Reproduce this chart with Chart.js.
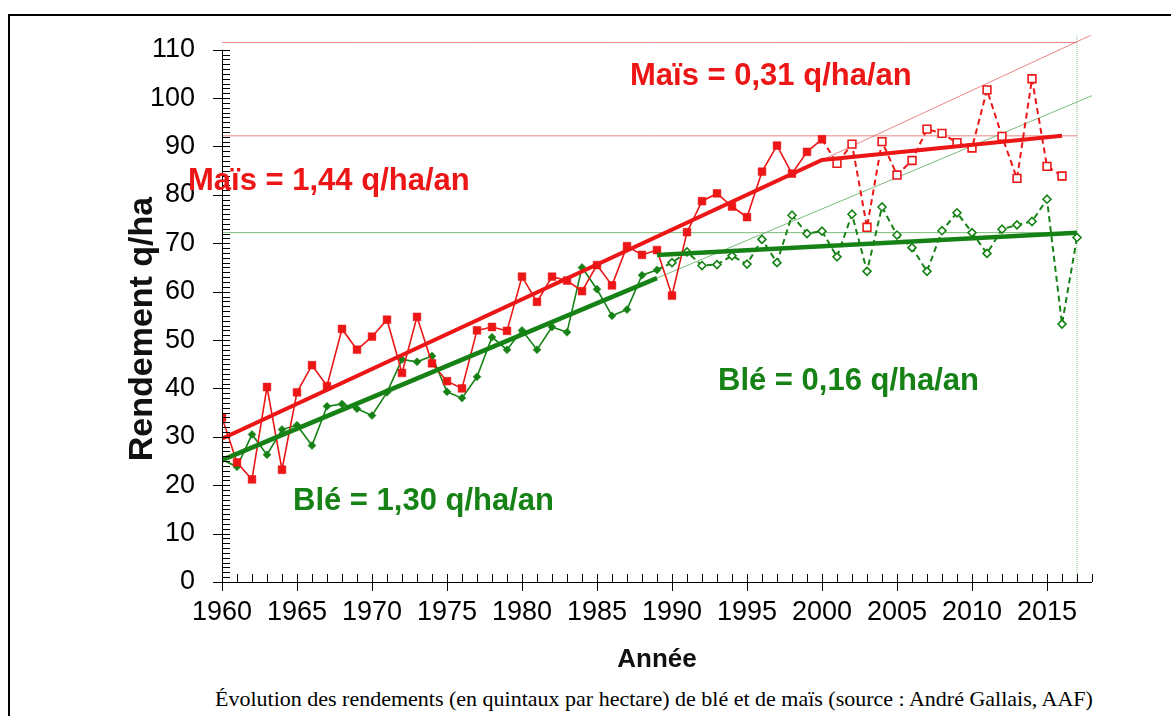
<!DOCTYPE html>
<html>
<head>
<meta charset="utf-8">
<script src="https://cdn.jsdelivr.net/npm/chart.js@4.4.1/dist/chart.umd.min.js"></script>
<style>
  body { margin: 0; background: #fff; }
  #wrap { position: relative; width: 1171px; height: 716px; overflow: hidden; }
  #frame { position: absolute; left: 8px; top: 14px; width: 1200px; height: 720px;
           border-left: 2px solid #000; border-top: 2px solid #000; }
  #rendement { position: absolute; left: 0; top: 0; }
  #caption { position: absolute; left: 215px; top: 686px; white-space: nowrap;
             font: 22px "Liberation Serif", "Times New Roman", serif; color: #000; }
</style>
</head>
<body>
<div id="wrap">
  <div id="frame"></div>
  <canvas id="rendement" width="1171" height="682"></canvas>
  <div id="caption">Évolution des rendements (en quintaux par hectare) de blé et de maïs (source : André Gallais, AAF)</div>
</div>
<script>
const years = [];
for (let y = 1960; y <= 2017; y++) years.push(y);

// maïs 1960-2016
const maize = [34, 24.7, 21.2, 40.3, 23.2, 39.2, 44.8, 40.5, 52.3, 48,
  50.7, 54.2, 43.2, 54.8, 45.2, 41.5, 40, 52, 52.7, 51.9,
  63.1, 57.9, 63.1, 62.3, 60.1, 65.5, 61.3, 69.4, 67.6, 68.6,
  59.2, 72.3, 78.7, 80.3, 77.6, 75.4, 84.8, 90.2, 84.4, 88.9,
  91.5, 86.5, 90.5, 73.3, 91, 84.1, 87.1, 93.6, 92.7, 90.8,
  89.7, 101.7, 92.1, 83.4, 104, 85.9, 83.9];

// blé 1960-2017
const wheat = [25.3, 23.8, 30.5, 26.3, 31.5, 32.4, 28.2, 36.3, 36.8, 35.8,
  34.4, 39.2, 46, 45.5, 46.7, 39.3, 38, 42.4, 50.6, 48,
  52, 48, 52.7, 51.6, 65, 60.5, 55, 56.3, 63.4, 64.5,
  66, 68.2, 65.4, 65.6, 67.4, 65.7, 70.8, 66, 75.8, 72,
  72.5, 67.2, 76, 64.2, 77.5, 71.7, 69.1, 64.2, 72.6, 76.3,
  72.2, 67.9, 72.9, 73.8, 74.5, 79.1, 53.3, 71.2];

const maizeBreak = 2000;
const wheatBreak = 1989;

// tendances
const maizeTrendX = [1960, 2000, 2016];
const maizeTrendY = [29.6, 87.2, 92.2];
const wheatTrend1X = [1960, 1989];
const wheatTrend1Y = [25.2, 62.8];
const wheatTrend2X = [1989, 2017];
const wheatTrend2Y = [67.6, 72.2];

// prolongations et repères fins
const maizeExtX = [2000, 2018];
const maizeExtY = [87.2, 113.1];
const wheatExtX = [1989, 2018];
const wheatExtY = [62.8, 100.5];
const refMaizeHigh = 111.5;
const refMaizeLow = 92.2;
const refWheat = 72.2;
const refYear = 2017;

const RED = "rgb(236,22,22)";
const GREEN = "rgb(22,130,22)";
const RED_THIN = "rgba(232,110,110,0.85)";
const GREEN_THIN = "rgba(100,175,100,0.85)";

const pts = (xs, ys) => xs.map((x, i) => ({ x: x, y: ys[i] }));

const decor = {
  id: "decor",
  afterDraw(chart) {
    const ctx = chart.ctx;
    const xs = chart.scales.x;
    const ys = chart.scales.y;
    const x0 = xs.getPixelForValue(1960);
    const y0 = ys.getPixelForValue(0);

    ctx.save();
    ctx.strokeStyle = "#000";
    ctx.lineWidth = 1;
    ctx.beginPath();
    // axe y
    ctx.moveTo(x0 + 0.5, y0);
    ctx.lineTo(x0 + 0.5, ys.getPixelForValue(110));
    for (let v = 0; v <= 110; v++) {
      const py = Math.round(ys.getPixelForValue(v)) + 0.5;
      ctx.moveTo(x0, py);
      ctx.lineTo(x0 + 8, py);
      if (v % 10 === 0) {
        ctx.moveTo(x0 - 9, py);
        ctx.lineTo(x0, py);
      }
    }
    // axe x
    ctx.moveTo(x0, Math.round(y0) + 0.5);
    ctx.lineTo(xs.getPixelForValue(2018), Math.round(y0) + 0.5);
    for (let yr = 1960; yr <= 2018; yr++) {
      const px = Math.round(xs.getPixelForValue(yr)) + 0.5;
      ctx.moveTo(px, y0 - 8);
      ctx.lineTo(px, y0);
      if (yr % 5 === 0) {
        ctx.moveTo(px, y0);
        ctx.lineTo(px, y0 + 9);
      }
    }
    ctx.stroke();

    // titres d'axes
    ctx.fillStyle = "#111";
    ctx.font = 'bold 34px "Liberation Sans", Arial, sans-serif';
    ctx.textAlign = "center";
    ctx.textBaseline = "middle";
    ctx.save();
    ctx.translate(143, 329);
    ctx.rotate(-Math.PI / 2);
    ctx.fillText("Rendement q/ha", 0, 0);
    ctx.restore();
    ctx.font = 'bold 26px "Liberation Sans", Arial, sans-serif';
    ctx.fillText("Année", (chart.chartArea.left + chart.chartArea.right) / 2, 660);

    // pentes
    ctx.textAlign = "left";
    ctx.font = 'bold 31px "Liberation Sans", Arial, sans-serif';
    ctx.fillStyle = RED;
    ctx.fillText("Maïs = 0,31 q/ha/an", 630, 76);
    ctx.fillText("Maïs = 1,44 q/ha/an", 188, 181);
    ctx.fillStyle = GREEN;
    ctx.fillText("Blé = 0,16 q/ha/an", 718, 381);
    ctx.fillText("Blé = 1,30 q/ha/an", 293, 501);
    ctx.restore();
  }
};

new Chart("rendement", {
  type: "line",
  data: {
    datasets: [
      {
        data: pts(maizeTrendX, maizeTrendY),
        borderColor: RED, borderWidth: 4, pointRadius: 0, order: 1
      },
      {
        data: pts(wheatTrend1X, wheatTrend1Y),
        borderColor: GREEN, borderWidth: 4.5, pointRadius: 0, order: 1
      },
      {
        data: pts(wheatTrend2X, wheatTrend2Y),
        borderColor: GREEN, borderWidth: 4.5, pointRadius: 0, order: 1
      },
      {
        data: pts(years.slice(0, maize.length), maize),
        borderColor: RED, borderWidth: 1.6,
        pointStyle: "rect", pointRadius: 5.5,
        pointBorderColor: RED,
        pointBorderWidth: (c) => years[c.dataIndex] > maizeBreak ? 1.6 : 0.5,
        pointBackgroundColor: (c) => years[c.dataIndex] > maizeBreak ? "#fff" : RED,
        segment: {
          borderDash: (c) => c.p1.parsed.x > maizeBreak ? [6, 4] : undefined,
          borderWidth: (c) => c.p1.parsed.x > maizeBreak ? 2 : 1.6
        },
        order: 2
      },
      {
        data: pts(years, wheat),
        borderColor: GREEN, borderWidth: 1.6,
        pointStyle: "rectRot", pointRadius: 4,
        pointBorderColor: GREEN,
        pointBorderWidth: (c) => years[c.dataIndex] > wheatBreak ? 1.6 : 0.5,
        pointBackgroundColor: (c) => years[c.dataIndex] > wheatBreak ? "#fff" : GREEN,
        segment: {
          borderDash: (c) => c.p1.parsed.x > wheatBreak ? [6, 4] : undefined,
          borderWidth: (c) => c.p1.parsed.x > wheatBreak ? 2 : 1.6
        },
        order: 2
      },
      {
        data: pts(maizeExtX, maizeExtY),
        borderColor: RED_THIN, borderWidth: 1, pointRadius: 0, order: 3
      },
      {
        data: pts(wheatExtX, wheatExtY),
        borderColor: GREEN_THIN, borderWidth: 1, pointRadius: 0, order: 3
      },
      {
        data: pts([1960, refYear], [refMaizeHigh, refMaizeHigh]),
        borderColor: RED_THIN, borderWidth: 1, pointRadius: 0, order: 3
      },
      {
        data: pts([1960, refYear], [refMaizeLow, refMaizeLow]),
        borderColor: RED_THIN, borderWidth: 1, pointRadius: 0, order: 3
      },
      {
        data: pts([1960, refYear], [refWheat, refWheat]),
        borderColor: GREEN_THIN, borderWidth: 1, pointRadius: 0, order: 3
      },
      {
        data: pts([refYear, refYear], [0, 113]),
        borderColor: GREEN_THIN, borderWidth: 1, borderDash: [1, 1], pointRadius: 0, order: 3
      }
    ]
  },
  options: {
    responsive: false,
    animation: false,
    devicePixelRatio: 1,
    layout: { padding: { left: 0, top: 22, right: 79, bottom: 0 } },
    plugins: { legend: { display: false }, tooltip: { enabled: false } },
    scales: {
      x: {
        type: "linear",
        min: 1960, max: 2018,
        grid: { display: false },
        border: { display: false },
        ticks: {
          stepSize: 1, autoSkip: false, maxRotation: 0, padding: 6,
          color: "#000",
          font: { family: '"Liberation Sans", Arial, sans-serif', size: 27 },
          callback: (v) => (v % 5 === 0 && v <= 2015) ? String(v) : ""
        },
        afterFit: (s) => { s.height = 100; }
      },
      y: {
        min: 0, max: 113,
        grid: { display: false },
        border: { display: false },
        ticks: {
          stepSize: 1, autoSkip: false, padding: 19,
          color: "#000",
          font: { family: '"Liberation Sans", Arial, sans-serif', size: 27 },
          callback: (v) => (v % 10 === 0 && v <= 110) ? String(v) : ""
        },
        afterFit: (s) => { s.width = 222; }
      }
    }
  },
  plugins: [decor]
});
</script>
</body>
</html>
